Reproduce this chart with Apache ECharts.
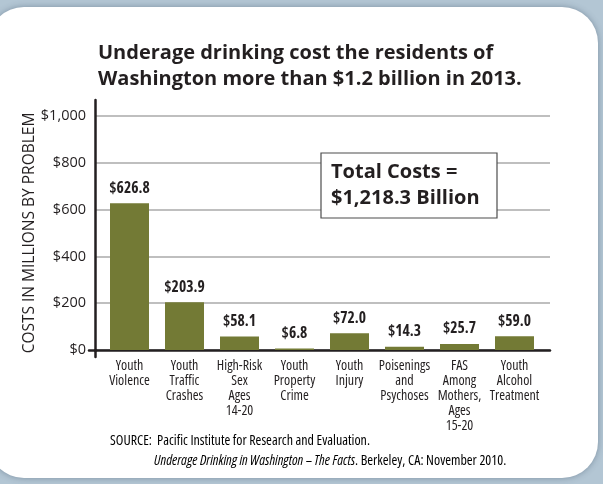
<!DOCTYPE html>
<html>
<head>
<meta charset="utf-8">
<script src="https://cdn.jsdelivr.net/npm/echarts@6/dist/echarts.min.js"></script>
<style>
  html, body { margin: 0; padding: 0; background: #b3c6d4; }
  #myChart { width: 603px; height: 484px; }
</style>
</head>
<body>
<div id="myChart"></div>
<script>
// 数据
const categories = [
    'Youth\nViolence',
    'Youth\nTraffic\nCrashes',
    'High-Risk\nSex\nAges\n14-20',
    'Youth\nProperty\nCrime',
    'Youth\nInjury',
    'Poisenings\nand\nPsychoses',
    'FAS\nAmong\nMothers,\nAges\n15-20',
    'Youth\nAlcohol\nTreatment'
];
const costs = [626.8, 203.9, 58.1, 6.8, 72.0, 14.3, 25.7, 59.0];
const yMin = 0;
const yMax = 1000;
const yStep = 200;
const totalText = ['Total Costs =', '$1,218.3 Billion'];

// Open Sans 是可变字体, condensed 可以压窄
const sans = '"Open Sans", sans-serif';

const myChart = echarts.init(document.getElementById('myChart'));

let option = {
    backgroundColor: '#b3c6d4',
    animation: false,
    title: {
        text: 'Underage drinking cost the residents of\nWashington more than $1.2 billion in 2013.',
        left: 93,
        top: 35,
        textStyle: {fontFamily: sans, fontWeight: 'bold', fontSize: 20, color: '#231f20', lineHeight: 26}
    },
    grid: [
        // 竖轴线
        {left: 95, top: 100, width: 455, height: 257},
        // 网格线 + 刻度
        {left: 95, top: 116, width: 455, height: 234},
        // 柱子
        {left: 102, top: 116, width: 440, height: 234},
        // $0 左边的小刻度
        {left: 89, top: 116, width: 7, height: 234}
    ],
    xAxis: [
        {gridIndex: 0, type: 'category', data: categories, show: false},
        {
            gridIndex: 1, type: 'category', data: categories,
            axisLine: {show: true, lineStyle: {color: '#231f20', width: 2.5}},
            axisTick: {show: false},
            axisLabel: {show: false}
        },
        {
            gridIndex: 2, type: 'category', data: categories,
            axisLine: {show: false},
            axisTick: {show: false},
            axisLabel: {
                interval: 0,
                margin: 9,
                fontFamily: sans,
                fontStyle: 'condensed',
                fontSize: 14,
                lineHeight: 15,
                color: '#231f20'
            }
        },
        {
            gridIndex: 3, type: 'category', data: [''],
            axisLine: {show: true, lineStyle: {color: '#231f20', width: 2.5}},
            axisTick: {show: false},
            axisLabel: {show: false}
        }
    ],
    yAxis: [
        {
            gridIndex: 0, type: 'value', min: 0, max: 1,
            axisLine: {show: true, lineStyle: {color: '#231f20', width: 2.5}},
            axisTick: {show: false},
            axisLabel: {show: false},
            splitLine: {show: false}
        },
        {
            gridIndex: 1, type: 'value', min: yMin, max: yMax, interval: yStep,
            name: 'COSTS IN MILLIONS BY PROBLEM',
            nameLocation: 'middle',
            nameGap: 57,
            nameMoveOverlap: false,
            nameTextStyle: {fontFamily: sans, fontSize: 15.5, color: '#231f20'},
            axisLine: {show: false},
            axisTick: {show: false},
            axisLabel: {
                margin: 9,
                fontFamily: sans,
                fontSize: 14.5,
                color: '#231f20',
                formatter: v => '$' + v.toLocaleString('en-US')
            },
            splitLine: {lineStyle: {color: '#aaaaaa', width: 1.5}}
        },
        {gridIndex: 2, type: 'value', min: yMin, max: yMax, show: false},
        {gridIndex: 3, type: 'value', min: yMin, max: yMax, show: false}
    ],
    series: [{
        type: 'bar',
        xAxisIndex: 2,
        yAxisIndex: 2,
        data: costs,
        barWidth: 39,
        itemStyle: {color: '#737a35'},
        label: {
            show: true,
            position: 'top',
            distance: 7,
            fontFamily: sans,
            fontStyle: 'condensed',
            fontWeight: 'bold',
            fontSize: 15.5,
            color: '#231f20',
            formatter: p => '$' + p.value.toFixed(1)
        },
        z: 5
    }],
    graphic: [
        // 白色卡片
        {
            type: 'rect', z: -10,
            shape: {x: -12, y: 7, width: 610, height: 471, r: 36},
            style: {fill: '#ffffff', shadowBlur: 6, shadowColor: 'rgba(60,80,100,0.45)'}
        },
        // 总计框
        {
            type: 'rect', z: 20,
            shape: {x: 321, y: 153, width: 176, height: 65},
            style: {fill: '#ffffff', stroke: '#4d4d4d', lineWidth: 1.2}
        },
        {
            type: 'text', z: 21, left: 331, top: 159,
            style: {
                text: totalText.join('\n'),
                font: 'bold 20px ' + sans,
                lineHeight: 26,
                fill: '#231f20'
            }
        },
        // 来源
        {
            type: 'text', left: 110, top: 434,
            style: {
                text: '{n|SOURCE:  Pacific Institute for Research and Evaluation.}\n{s|    }{i|Underage Drinking in Washington – The Facts}{n|. Berkeley, CA: November 2010.}',
                rich: {
                    n: {fontFamily: sans, fontStyle: 'condensed', fontSize: 14, color: '#231f20', lineHeight: 20},
                    i: {fontFamily: sans, fontStyle: 'italic condensed', fontSize: 14, color: '#231f20', lineHeight: 20},
                    s: {width: 44, lineHeight: 20}
                }
            }
        }
    ]
};

myChart.setOption(option);
</script>
</body>
</html>
